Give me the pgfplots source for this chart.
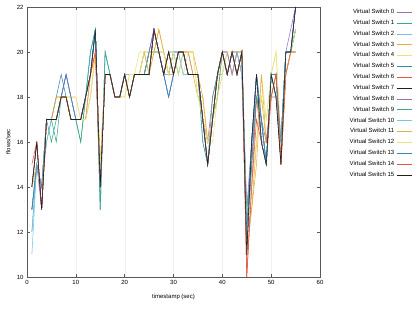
\documentclass[border=0pt]{standalone}
\usepackage{pgfplots}
\usepackage{pgfplotstable}
\pgfplotsset{compat=1.18}
\usepackage{fontspec}
\setmainfont{Liberation Sans}
\definecolor{g1}{HTML}{9A6FC0}
\definecolor{g2}{HTML}{3AA88A}
\definecolor{g3}{HTML}{7CC3EC}
\definecolor{g4}{HTML}{E6AE3A}
\definecolor{g5}{HTML}{EDE27A}
\definecolor{g6}{HTML}{3A86BE}
\definecolor{g7}{HTML}{E2564A}
\definecolor{g8}{HTML}{202020}
\pgfplotstableread{
name c1 c2 c3 c4 c5 c6 c7 c8 c9 c10 c11 c12 c13 c14 c15 c16 c17 c18 c19 c20 c21 c22 c23 c24 c25 c26 c27 c28 c29 c30 c31 c32 c33 c34 c35 c36 c37 c38 c39 c40 c41 c42 c43 c44 c45 c46 c47 c48 c49 c50 c51 c52 c53 c54 c55
s0  13 15 13 17 17 17 18 19 18 17  17 17 19 21 14 19 19 18 18 19  19 19 19 19 20 21 20 19 18 19  20 20 20 19 19 17 16 18 19 20  20 19 20 20 13 16 18 17 16 18  18 16 20 21 22
s1  12 15 14 16 17 16 18 18 17 17  16 18 20 21 13 20 19 18 18 19  18 19 19 19 20 20 20 19 20 20  19 20 19 19 19 17 15 18 19 20  19 20 20 19 13 15 18 17 15 19  18 16 20 20 21
s2  11 15 14 16 17 17 18 19 18 17  17 18 20 21 13 20 19 18 18 19  19 19 19 20 19 21 20 20 19 20  20 19 19 19 19 16 15 17 19 19  20 19 20 20 12 15 19 17 15 19  19 16 19 20 21
s3  14 15 14 17 17 18 18 18 17 17  17 17 18 20 15 19 19 18 18 19  18 19 19 20 20 20 21 20 19 19  20 20 20 19 18 18 16 17 18 20  19 20 19 20 12 13 16 18 16 18  19 15 19 20 20
s4  14 15 14 17 17 17 18 18 18 18  17 17 18 20 15 19 19 18 18 18  19 19 20 20 19 20 20 20 19 20  20 19 20 20 18 18 16 16 18 19  20 19 20 20 12 14 16 19 17 19  20 16 19 20 21
s5  13 15 14 17 17 18 19 18 17 17  17 18 19 21 14 19 19 18 18 19  19 19 19 19 20 21 20 19 18 19  20 20 19 19 19 17 15 17 19 20  19 20 19 20 12 16 19 17 15 19  19 16 20 20 22
s6  14 16 13 17 17 17 18 18 17 17  17 18 19 20 14 19 19 18 18 19  18 19 19 19 19 21 20 19 20 19  20 20 19 19 19 17 15 17 19 20  19 20 19 20 10 14 18 16 15 18  19 15 19 20 21
s7  14 16 13 17 17 17 18 18 17 17  17 18 19 21 14 19 19 18 18 19  18 19 19 19 19 21 20 19 20 19  20 20 19 19 19 17 15 17 19 20  19 20 19 20 11 16 19 16 15 19  18 15 20 20 22
s8  14 16 13 17 17 17 18 19 18 17  17 18 19 21 14 19 19 18 18 19  19 19 19 19 20 21 20 19 19 20  20 20 19 19 19 17 16 17 19 20  20 19 20 19 11 15 19 16 15 19  19 15 20 20 22
s9  13 15 14 17 16 17 18 18 17 17  16 18 20 21 13 20 19 18 18 19  18 19 19 19 20 20 20 19 20 19  20 20 19 19 19 16 15 17 18 20  19 20 19 20 12 15 18 17 15 19  18 16 20 20 21
s10 12 15 14 17 17 17 18 18 17 17  17 18 19 21 14 19 19 18 18 19  19 19 19 19 19 21 20 19 19 20  20 19 19 19 19 17 15 17 19 20  19 20 20 19 12 16 19 16 15 19  18 16 20 20 21
s11 14 15 14 17 17 18 18 18 17 17  17 17 19 20 15 19 19 18 18 19  18 19 19 20 19 20 21 20 19 19  20 20 20 20 19 18 16 17 19 20  19 20 20 20 11 13 15 19 16 18  19 15 19 20 20
s12 14 15 14 17 17 17 18 18 18 18  17 17 18 20 15 19 19 18 18 18  19 19 19 20 20 20 20 20 19 20  19 20 20 20 18 17 16 17 18 19  20 20 19 20 12 14 16 18 17 19  20 16 19 20 21
s13 13 15 14 17 17 17 18 19 18 17  17 18 19 21 14 19 19 18 18 19  18 19 19 19 19 21 20 19 18 19  20 20 19 19 19 17 15 17 19 20  19 20 19 20 12 16 19 17 15 19  19 16 20 20 22
s14 15 16 13 17 17 17 18 18 17 17  17 18 19 20 14 19 19 18 18 19  18 19 19 19 19 21 20 19 20 19  20 20 19 19 19 17 15 17 19 20  19 20 19 20 10 14 17 16 16 18  19 15 19 20 20
s15 14 16 13 17 17 17 18 18 17 17  17 18 19 21 14 19 19 18 18 19  18 19 19 19 19 21 20 19 20 19  20 20 19 19 19 17 15 17 19 20  19 20 19 20 11 16 19 16 15 19  18 15 20 20 22
}\raw
\pgfplotstabletranspose[colnames from=name]\data\raw
\begin{document}
\begin{tikzpicture}
\begin{axis}[
  at={(0pt,0pt)}, anchor=origin,
  scale only axis,
  width=293pt, height=270pt,
  xmin=0, xmax=60, ymin=10, ymax=22,
  xtick={0,10,...,60}, ytick={10,12,...,22},
  axis line style={gray!70!black, line width=0.4pt},
  tick style={gray!70!black, line width=0.4pt},
  major tick length=3pt,
  xmajorgrids, grid style={gray!12, line width=0.3pt},
  ticklabel style={font=\fontsize{6}{7}\selectfont},
  /pgf/number format/assume math mode=true,
  xlabel={timestamp (sec)}, ylabel={flows/sec},
  label style={font=\fontsize{6}{7}\selectfont},
  xlabel style={at={(axis description cs:0.5,0)}, anchor=north, yshift=-14pt},
  ylabel style={at={(axis description cs:0,0.5)}, anchor=south, yshift=13pt},
  legend plot pos=right,
  legend cell align=right,
  legend image code/.code={\draw[#1] (0pt,0pt) -- (15pt,0pt);},
  legend style={at={(1.314,1.0)}, anchor=north east, draw=none, fill=none,
    font=\fontsize{6}{7}\selectfont, row sep=1.0pt, inner sep=0pt},
  every axis plot/.append style={line width=0.55pt},
]
\addplot[g1] table[x expr=\coordindex+1, y=s0]{\data};
\addplot[g2] table[x expr=\coordindex+1, y=s1]{\data};
\addplot[g3] table[x expr=\coordindex+1, y=s2]{\data};
\addplot[g4] table[x expr=\coordindex+1, y=s3]{\data};
\addplot[g5] table[x expr=\coordindex+1, y=s4]{\data};
\addplot[g6] table[x expr=\coordindex+1, y=s5]{\data};
\addplot[g7] table[x expr=\coordindex+1, y=s6]{\data};
\addplot[g8] table[x expr=\coordindex+1, y=s7]{\data};
\addplot[g1] table[x expr=\coordindex+1, y=s8]{\data};
\addplot[g2] table[x expr=\coordindex+1, y=s9]{\data};
\addplot[g3] table[x expr=\coordindex+1, y=s10]{\data};
\addplot[g4] table[x expr=\coordindex+1, y=s11]{\data};
\addplot[g5] table[x expr=\coordindex+1, y=s12]{\data};
\addplot[g6] table[x expr=\coordindex+1, y=s13]{\data};
\addplot[g7] table[x expr=\coordindex+1, y=s14]{\data};
\addplot[g8] table[x expr=\coordindex+1, y=s15]{\data};
\legend{Virtual Switch 0,Virtual Switch 1,Virtual Switch 2,Virtual Switch 3,Virtual Switch 4,Virtual Switch 5,Virtual Switch 6,Virtual Switch 7,Virtual Switch 8,Virtual Switch 9,Virtual Switch 10,Virtual Switch 11,Virtual Switch 12,Virtual Switch 13,Virtual Switch 14,Virtual Switch 15}
\end{axis}
\pgfresetboundingbox
\useasboundingbox (-27pt,-41pt) rectangle (392pt,277pt);
\end{tikzpicture}
\end{document}
